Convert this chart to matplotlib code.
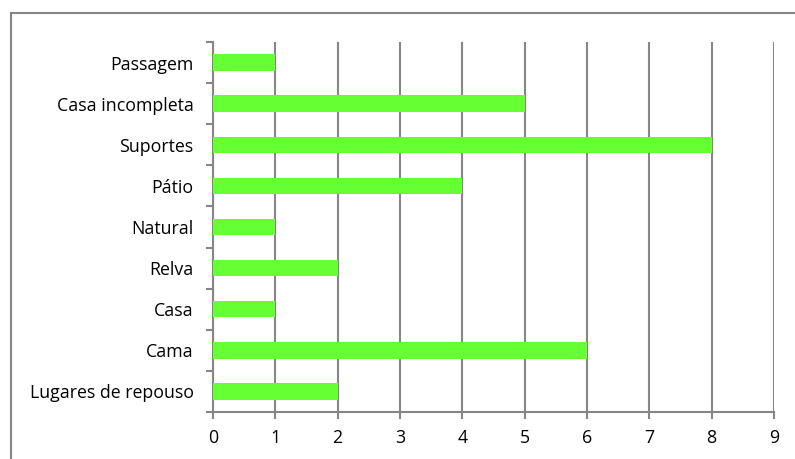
import numpy as np
import matplotlib.pyplot as plt
from matplotlib.patches import Rectangle

# -------- DATA --------
categories = ["Lugares de repouso", "Cama", "Casa", "Relva", "Natural",
              "Pátio", "Suportes", "Casa incompleta", "Passagem"]
values = [2, 6, 1, 2, 1, 4, 8, 5, 1]
x_ticks = list(range(0, 10))

grey = "#868686"

# -------- PLOT --------
fig = plt.figure(figsize=(7.95, 4.59), dpi=100)
plt.rcParams['font.family'] = ['Open Sans', 'DejaVu Sans']

# outer chart frame (cropped on the right and bottom)
fig.patches.append(Rectangle((11 / 795, -0.1), 1.0, (459 - 13) / 459 + 0.1,
                             transform=fig.transFigure, fill=False,
                             edgecolor=grey, linewidth=1.5))

ax = fig.add_axes([213 / 795, 47 / 459, (774 - 213) / 795, (412 - 42) / 459])

pos = np.arange(len(categories))
ax.barh(pos, values, height=0.4, color="#66FF33", zorder=3)

ax.set_xlim(0, 9)
ax.set_ylim(-0.5, len(categories) - 0.5)
ax.set_xticks(x_ticks)
ax.set_xticklabels([str(t) for t in x_ticks], fontsize=12.8)
ax.xaxis.grid(True, color=grey, linewidth=1.5, zorder=0)

# category labels at centres, tick marks at boundaries
ax.set_yticks(np.arange(-0.5, len(categories)), minor=False)
ax.set_yticklabels([])
ax.set_yticks(pos, minor=True)
ax.set_yticklabels(categories, minor=True, fontsize=12.8)
ax.tick_params(axis='y', which='minor', length=0, pad=14)
ax.tick_params(axis='y', which='major', length=5, width=1.5, color=grey)
ax.tick_params(axis='x', length=5, width=1.5, color=grey, pad=7)

for side in ["top", "right"]:
    ax.spines[side].set_visible(False)
for side in ["left", "bottom"]:
    ax.spines[side].set_color(grey)
    ax.spines[side].set_linewidth(1.5)

fig.savefig("out.png", dpi=100)
